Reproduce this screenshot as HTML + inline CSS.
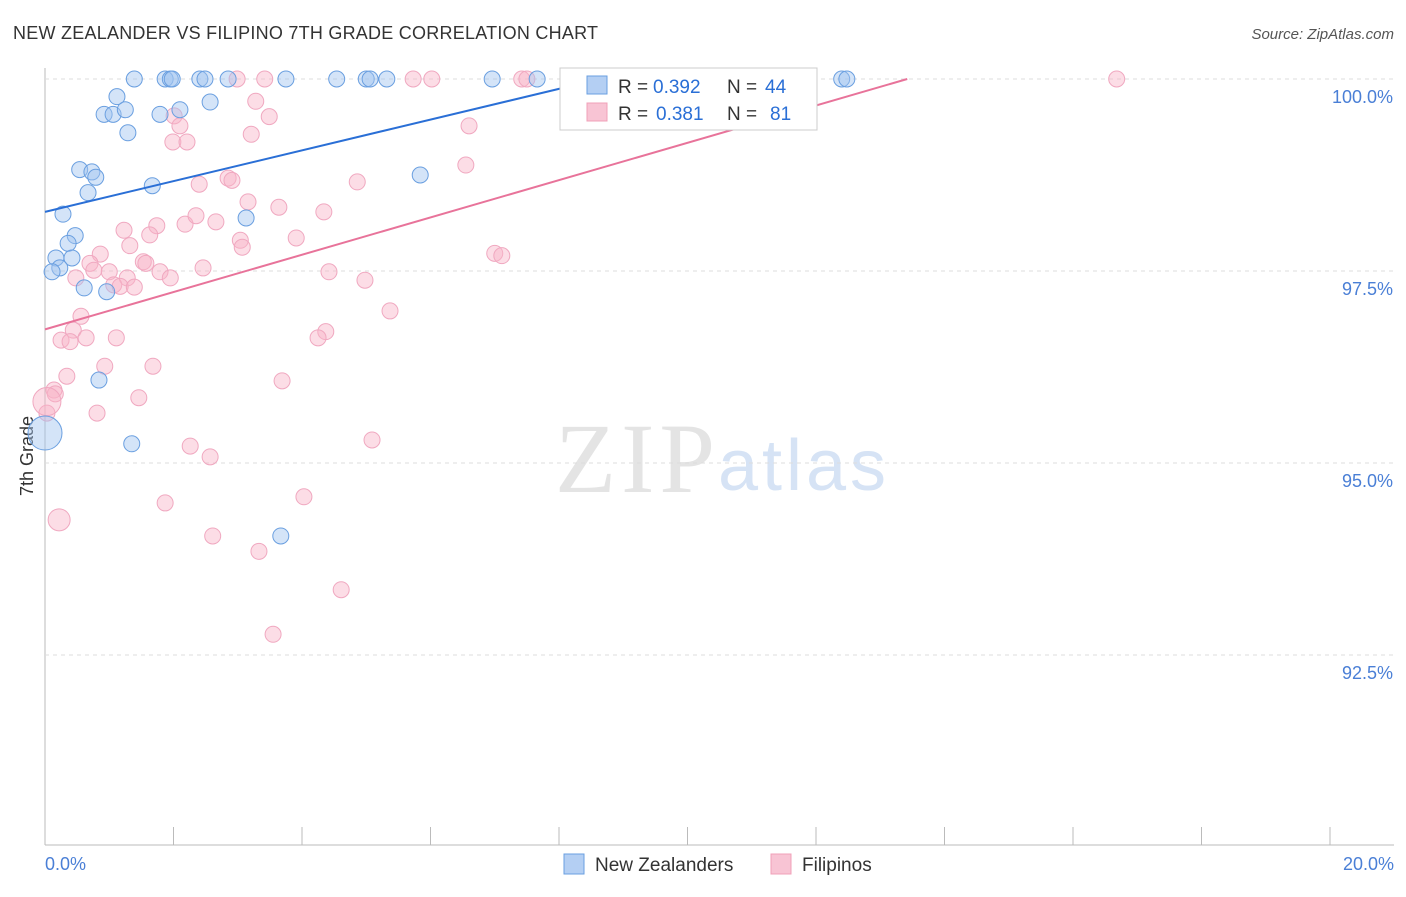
<!DOCTYPE html>
<html><head><meta charset="utf-8"><style>
body{margin:0;background:#fff;font-family:"Liberation Sans",sans-serif}
svg text{font-family:"Liberation Sans",sans-serif}
</style></head><body>
<svg id="c" width="1406" height="892">
<text x="13" y="39" font-size="18" fill="#333" textLength="585">NEW ZEALANDER VS FILIPINO 7TH GRADE CORRELATION CHART</text>
<text x="1394" y="39" font-size="15" fill="#555" text-anchor="end" font-style="italic">Source: ZipAtlas.com</text>
<text x="555" y="492" font-size="100" fill="#e4e4e4" textLength="160" style="font-family:'Liberation Serif',serif">ZIP</text>
<text x="718" y="490" font-size="72" fill="#d6e3f5" textLength="168">atlas</text>
<text transform="translate(33,456) rotate(-90)" font-size="18" fill="#333" text-anchor="middle">7th Grade</text>
<g id="grid"></g><g id="pts"></g><g id="lines"></g>
<g>
<rect x="560" y="68" width="257" height="62" fill="#fff" stroke="#ccc"/>
<rect x="587" y="76" width="20" height="18" fill="#b4cff3" stroke="#6a9fe0"/>
<text x="618" y="93" font-size="19" fill="#333">R =</text>
<text x="653" y="93" font-size="19" fill="#2a6fd6">0.392</text>
<text x="727" y="93" font-size="19" fill="#333">N =</text>
<text x="765" y="93" font-size="19" fill="#2a6fd6">44</text>
<rect x="587" y="103" width="20" height="18" fill="#f8c4d4" stroke="#f0a0b8"/>
<text x="618" y="120" font-size="19" fill="#333">R =</text>
<text x="656" y="120" font-size="19" fill="#2a6fd6">0.381</text>
<text x="727" y="120" font-size="19" fill="#333">N =</text>
<text x="770" y="120" font-size="19" fill="#2a6fd6">81</text>
</g>
<g>
<rect x="564" y="854" width="20" height="20" fill="#b4cff3" stroke="#6a9fe0"/>
<text x="595" y="871" font-size="19" fill="#333">New Zealanders</text>
<rect x="771" y="854" width="20" height="20" fill="#f8c4d4" stroke="#f0a0b8"/>
<text x="802" y="871" font-size="19" fill="#333">Filipinos</text>
</g>
</svg>
<script>
const xTicks=[0,2,4,6,8,10,12,14,16,18,20];
const yTicks=[100,97.5,95,92.5];
const yTickLabels=["100.0%","97.5%","95.0%","92.5%"];
const blueX=[1.39,1.87,1.95,1.98,2.41,2.49,2.85,3.75,4.54,5.00,5.06,5.32,6.96,7.66,12.40,12.48,1.12,2.57,0.92,1.06,1.25,1.79,2.10,1.29,0.54,0.73,0.79,0.67,1.67,5.84,0.28,3.13,0.47,0.36,0.17,0.42,0.23,0.11,0.61,0.96,0.84,1.35,3.67,0.0];
const blueY=[100,100,100,100,100,100,100,100,100,100,100,100,100,100,100,100,99.77,99.70,99.54,99.54,99.60,99.54,99.60,99.30,98.82,98.79,98.72,98.52,98.61,98.75,98.24,98.19,97.96,97.86,97.67,97.67,97.54,97.49,97.28,97.23,96.08,95.25,94.05,95.39];
const blueR=[8,8,8,8,8,8,8,8,8,8,8,8,8,8,8,8,8,8,8,8,8,8,8,8,8,8,8,8,8,8,8,8,8,8,8,8,8,8,8,8,8,8,8,17];
const pinkX=[2.99,3.42,5.73,6.02,7.42,7.50,11.75,16.68,3.28,3.49,2.01,2.10,6.60,3.21,1.99,2.21,6.55,2.40,2.85,2.91,4.86,3.16,3.64,4.34,2.66,2.18,2.35,1.74,1.23,1.63,3.04,3.91,1.32,3.07,0.86,7.00,7.11,0.70,1.53,1.57,2.46,0.76,1.00,1.79,4.42,1.95,0.48,1.28,4.98,1.07,1.17,1.39,5.37,0.56,0.44,4.37,4.25,1.11,0.25,0.64,0.39,0.93,1.68,0.34,3.69,0.14,0.16,1.46,0.81,0.03,5.09,2.26,2.57,4.03,1.87,0.22,2.61,3.33,4.61,3.55,0.03];
const pinkY=[100,100,100,100,100,100,100,100,99.71,99.51,99.52,99.39,99.39,99.28,99.18,99.18,98.88,98.63,98.71,98.68,98.66,98.40,98.33,98.27,98.14,98.11,98.22,98.09,98.03,97.97,97.90,97.93,97.83,97.81,97.72,97.73,97.70,97.60,97.62,97.60,97.54,97.51,97.49,97.49,97.49,97.41,97.41,97.41,97.38,97.32,97.30,97.29,96.98,96.91,96.73,96.71,96.63,96.63,96.60,96.63,96.58,96.26,96.26,96.13,96.07,95.95,95.90,95.85,95.65,95.65,95.30,95.22,95.08,94.56,94.48,94.26,94.05,93.85,93.35,92.77,95.80];
const pinkR=[8,8,8,8,8,8,8,8,8,8,8,8,8,8,8,8,8,8,8,8,8,8,8,8,8,8,8,8,8,8,8,8,8,8,8,8,8,8,8,8,8,8,8,8,8,8,8,8,8,8,8,8,8,8,8,8,8,8,8,8,8,8,8,8,8,8,8,8,8,8,8,8,8,8,8,11,8,8,8,8,14];
const blueLine=[[0,98.27],[8.64,100]];
const pinkLine=[[0,96.74],[13.42,100]];
const X=v=>45+v*64.25, Y=v=>79+(100-v)*76.8;
const NS="http://www.w3.org/2000/svg";
function mk(t,a,p){const e=document.createElementNS(NS,t);for(const k in a)e.setAttribute(k,a[k]);document.getElementById(p).appendChild(e);return e;}
mk('line',{x1:45,y1:68,x2:45,y2:845,stroke:'#bbb'},'grid');
mk('line',{x1:45,y1:845,x2:1394,y2:845,stroke:'#bbb'},'grid');
xTicks.forEach(t=>{const l=mk('line',{x1:X(t),y1:827,x2:X(t),y2:845,stroke:'#bbb'},'grid');

});
yTicks.forEach((t,i)=>{const l=mk('line',{x1:45,y1:Y(t),x2:1394,y2:Y(t),stroke:'#ddd','stroke-dasharray':'4,4'},'grid');


const tx=mk('text',{x:1393,y:Y(t)+24,'font-size':18,fill:'#4a7fd6','text-anchor':'end'},'grid');tx.textContent=yTickLabels[i];

});
const x0=mk('text',{x:45,y:870,'font-size':18,fill:'#4a7fd6'},'grid');x0.textContent='0.0%';


const x1=mk('text',{x:1394,y:870,'font-size':18,fill:'#4a7fd6','text-anchor':'end'},'grid');x1.textContent='20.0%';


pinkX.forEach((v,i)=>{const c=mk('circle',{cx:X(v),cy:Y(pinkY[i]),r:pinkR[i],fill:'rgba(248,180,200,0.45)',stroke:'#f0a8c0','stroke-width':1},'pts');

});
blueX.forEach((v,i)=>{const c=mk('circle',{cx:X(v),cy:Y(blueY[i]),r:blueR[i],fill:'rgba(160,196,240,0.45)',stroke:'#6a9fe0','stroke-width':1},'pts');

});
const bl=mk('line',{x1:X(blueLine[0][0]),y1:Y(blueLine[0][1]),x2:X(blueLine[1][0]),y2:Y(blueLine[1][1]),stroke:'#2a6fd6','stroke-width':2},'lines');


const pl=mk('line',{x1:X(pinkLine[0][0]),y1:Y(pinkLine[0][1]),x2:X(pinkLine[1][0]),y2:Y(pinkLine[1][1]),stroke:'#e8739a','stroke-width':2},'lines');


</script>
</body></html>
